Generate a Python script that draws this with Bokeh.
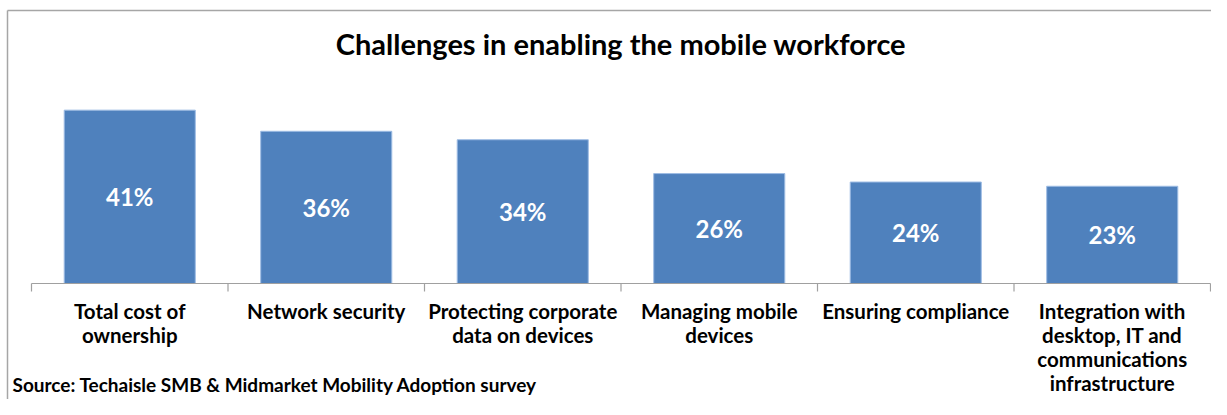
from bokeh.plotting import figure
from bokeh.models import ColumnDataSource, FixedTicker, Range1d, Label
from bokeh.embed import file_html
from bokeh.resources import INLINE
from bokeh.core.properties import value

title_text = "Challenges in enabling the mobile workforce"
source_text = "Source: Techaisle SMB & Midmarket Mobility Adoption survey"
categories = [
    "Total cost of\nownership",
    "Network security",
    "Protecting corporate\ndata on devices",
    "Managing mobile\ndevices",
    "Ensuring compliance",
    "Integration with\ndesktop, IT and\ncommunications\ninfrastructure",
]
values = [41, 36, 34, 26, 24, 23]

FONT = "Lato"
BAR = "#4F81BD"
BORDER = "#A6A6A6"
AXIS = "#A0A0A0"

n = len(categories)
PX_X = 196.5      # pixels per category
PX_Y = 4.228      # pixels per percentage point
xs = [i + 0.5 for i in range(n)]
src = ColumnDataSource(dict(
    x=xs,
    top=values,
    mid=[v / 2 for v in values],
    lab=[f"{v}%" for v in values],
))
cat_src = ColumnDataSource(dict(x=xs, y=[-15 / PX_Y] * n, text=categories))
edges = list(range(n + 1))
tick_src = ColumnDataSource(dict(x=edges, y0=[0] * (n + 1), y1=[-8 / PX_Y] * (n + 1)))

p = figure(width=1211, height=399, output_backend="svg", toolbar_location=None,
           x_axis_location="above",
           x_range=Range1d(-24 / PX_X, n + 1 / PX_X),
           y_range=Range1d(-116 / PX_Y, 273 / PX_Y),
           min_border_left=7, min_border_right=0, min_border_top=10, min_border_bottom=0)
p.outline_line_color = None
p.grid.visible = False
p.background_fill_color = "white"
p.border_fill_color = "white"

# left / top border lines: axes that carry only their line
for axis in (p.xaxis[0], p.yaxis[0]):
    axis.ticker = FixedTicker(ticks=[])
    axis.major_tick_out = 0
    axis.major_tick_in = 0
    axis.minor_tick_out = 0
    axis.minor_tick_in = 0
    axis.major_label_standoff = 0
    axis.major_label_text_font_size = "0px"
    axis.axis_line_color = BORDER
    axis.axis_line_width = 1.5

# bars and their value labels
p.vbar(x="x", top="top", width=0.667, bottom=0, source=src,
       fill_color=BAR, line_color="#9DBCE4", line_width=1)
p.text(x="x", y="mid", text="lab", source=src, text_color="white",
       text_font=value(FONT), text_font_style="bold", text_font_size="24px",
       text_align="center", text_baseline="middle")

# category axis: baseline, boundary ticks and labels
p.segment(x0=0, y0=0, x1=n, y1=0, line_color=AXIS, line_width=1.2)
p.segment(x0="x", y0="y0", x1="x", y1="y1", source=tick_src, line_color=AXIS, line_width=1.2)
p.text(x="x", y="y", text="text", source=cat_src, text_color="black",
       text_font=value(FONT), text_font_style="bold", text_font_size="20.5px",
       text_align="center", text_baseline="top", text_line_height=1.0)

# title and source
p.add_layout(Label(x=n / 2, y=(283 - 43) / PX_Y, text=title_text, text_align="center",
                   text_baseline="alphabetic", text_font=FONT, text_font_style="bold",
                   text_font_size="29px", text_color="black"))
p.add_layout(Label(x=-19 / PX_X, y=(283 - 383.5) / PX_Y, text=source_text, text_align="left",
                   text_baseline="alphabetic", text_font=FONT, text_font_style="bold",
                   text_font_size="19px", text_color="black"))

open("out.html", "w").write(file_html(p, INLINE))
